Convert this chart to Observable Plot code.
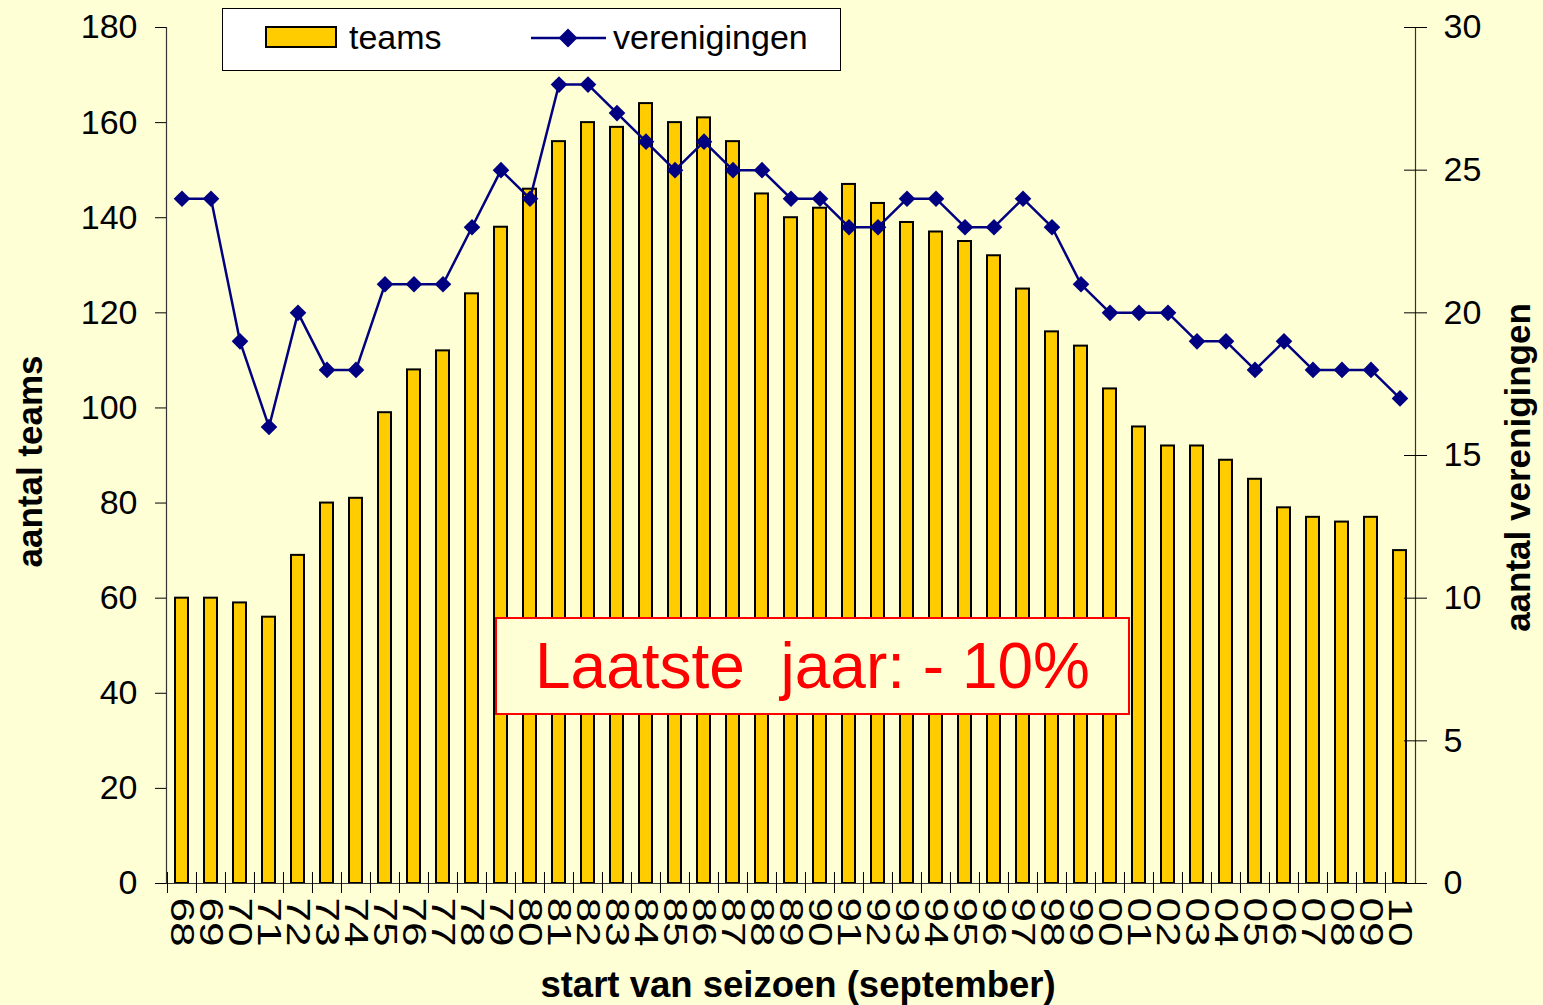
<!DOCTYPE html>
<html><head><meta charset="utf-8">
<script src="https://cdn.jsdelivr.net/npm/d3@7"></script>
<script src="https://cdn.jsdelivr.net/npm/@observablehq/plot@0.6"></script>
<style>
html,body{margin:0;padding:0;background:#FFFFD5;}
#wrap{position:relative;width:1543px;height:1005px;font-family:"Liberation Sans",Arial,sans-serif;overflow:hidden;}
#wrap svg.plot{position:absolute;left:0;top:0;}
#legend{position:absolute;left:222px;top:8px;width:619px;height:63px;box-sizing:border-box;border:1.5px solid #000;background:#fff;}
#note{position:absolute;left:495px;top:617px;width:635px;height:98px;box-sizing:border-box;border:2px solid #ff0000;background:#FFFFD5;color:#ff0000;font-size:64px;display:flex;align-items:center;justify-content:center;white-space:pre;}
</style></head><body><div id="wrap"></div>
<script>
const seasons = ["68","69","70","71","72","73","74","75","76","77","78","79","80","81","82","83","84","85","86","87","88","89","90","91","92","93","94","95","96","97","98","99","00","01","02","03","04","05","06","07","08","09","10"];
const teams = [60,60,59,56,69,80,81,99,108,112,124,138,146,156,160,159,164,160,161,156,145,140,142,147,143,139,137,135,132,125,116,113,104,96,92,92,89,85,79,77,76,77,70];
const verenigingen = [24,24,19,16,20,18,18,21,21,21,23,25,24,28,28,27,26,25,26,25,25,24,24,23,23,24,24,23,23,24,23,21,20,20,20,19,19,18,19,18,18,18,17];
const leftTicks = [0,20,40,60,80,100,120,140,160,180];
const rightTicks = [0,5,10,15,20,25,30];
const leftMax = 180, rightMax = 30;
const ratio = leftMax / rightMax;
const seriesNames = ["teams", "verenigingen"];
const xTitle = "start van seizoen (september)";
const yLeftTitle = "aantal teams";
const yRightTitle = "aantal verenigingen";
const noteText = "Laatste  jaar: - 10%";

const data = seasons.map((s, i) => ({season: s, teams: teams[i], ver: verenigingen[i]}));

const W = 1543, H = 1005, mL = 166, mR = 128, mT = 27, mB = 122;
const step = (W - mL - mR) / seasons.length;
const font = "Liberation Sans, Arial, sans-serif";

const chart = Plot.plot({
  width: W, height: H,
  marginLeft: mL, marginRight: mR, marginTop: mT, marginBottom: mB,
  style: {background: "transparent", fontFamily: font, fontSize: "34px", color: "#000", overflow: "visible"},
  x: {type: "band", domain: seasons, paddingInner: 0.55, paddingOuter: 0.275},
  y: {domain: [0, leftMax]},
  marks: [
    Plot.barY(data, {x: "season", y: "teams", fill: "#FFCC00", stroke: "#000", strokeWidth: 2}),
    Plot.line(data, {x: "season", y: d => d.ver * ratio, stroke: "#000080", strokeWidth: 2.5}),
    Plot.dot(data, {x: "season", y: d => d.ver * ratio, symbol: "diamond2", r: 7.5, fill: "#000080", stroke: "none"}),
    Plot.ruleY([0], {stroke: "#333", strokeWidth: 1.2}),
    Plot.frame({anchor: "left", stroke: "#333", strokeWidth: 1.2}),
    Plot.frame({anchor: "right", stroke: "#333", strokeWidth: 1.2}),
    Plot.axisY(leftTicks, {anchor: "left", tickSize: 11, tickPadding: 18, fontSize: 34, label: null}),
    Plot.axisY(rightTicks.map(v => v * ratio), {anchor: "right", tickSize: 23, insetRight: 12, tickPadding: 17, tickFormat: v => v / ratio, fontSize: 34, label: null}),
    Plot.axisX(seasons, {anchor: "bottom", tickSize: 21, insetBottom: 11, dx: -step / 2, tickFormat: () => "", label: null}),
    Plot.axisX(seasons, {anchor: "bottom", tickSize: 0, tickPadding: 14, tickRotate: 90, fontSize: 34, label: null}),
    Plot.text([yLeftTitle], {frameAnchor: "left", dx: -136, dy: 6, rotate: -90, textAnchor: "middle", lineAnchor: "middle", fontSize: 35, fontWeight: "bold"}),
    Plot.text([yRightTitle], {frameAnchor: "right", dx: 103, dy: 12, rotate: -90, textAnchor: "middle", lineAnchor: "middle", fontSize: 35, fontWeight: "bold"}),
    Plot.text([xTitle], {frameAnchor: "bottom", dx: 7, dy: 102, textAnchor: "middle", lineAnchor: "middle", fontSize: 36.5, fontWeight: "bold"})
  ]
});
chart.classList.add("plot");

// stretch rotated x tick labels along reading direction
d3.select(chart).selectAll('g[aria-label="x-axis tick label"] text').each(function() {
  const t = this.getAttribute("transform") || "";
  this.setAttribute("transform", t + " scale(1.3,1)");
});

const wrap = document.getElementById("wrap");
wrap.appendChild(chart);

// legend
const legend = document.createElement("div");
legend.id = "legend";
legend.innerHTML = `<svg width="619" height="63" style="position:absolute;left:0;top:0;font-family:${font}">
  <rect x="43" y="18" width="70" height="20" fill="#FFCC00" stroke="#000" stroke-width="2"/>
  <text x="126" y="40" font-size="34">${seriesNames[0]}</text>
  <line x1="308" x2="383" y1="29" y2="29" stroke="#000080" stroke-width="2.5"/>
  <path d="M345,19.5L354.5,29L345,38.5L335.5,29Z" fill="#000080"/>
  <text x="390" y="40" font-size="34">${seriesNames[1]}</text>
</svg>`;
wrap.appendChild(legend);

// annotation
const note = document.createElement("div");
note.id = "note";
note.textContent = noteText;
wrap.appendChild(note);
</script>
</body></html>
